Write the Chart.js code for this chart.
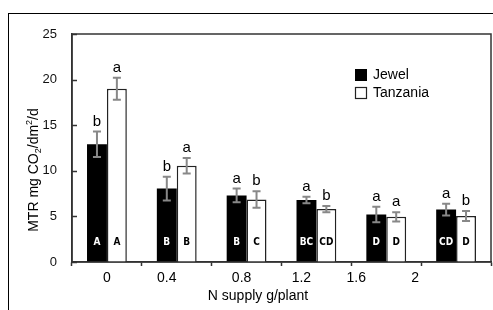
<!DOCTYPE html>
<html>
<head>
<meta charset="utf-8">
<script src="https://cdn.jsdelivr.net/npm/chart.js@4/dist/chart.umd.min.js"></script>
<style>
  html, body { margin: 0; padding: 0; background: #fff; overflow: hidden; }
  #wrap { position: relative; width: 493px; height: 310px; }
  #frame { position: absolute; left: 8px; top: 13px; width: 600px; height: 400px;
           border-left: 1.5px solid #000; border-top: 1.5px solid #000; }
  canvas { position: absolute; left: 0; top: 0; }
</style>
</head>
<body>
<div id="wrap">
  <div id="frame"></div>
  <canvas id="chart" width="493" height="310"></canvas>
</div>
<script>
// N supply levels (g/plant)
const nSupply = ['0', '0.4', '0.8', '1.2', '1.6', '2'];

// MTR mg CO2/dm2/d
const jewel = [12.9, 8.05, 7.3, 6.8, 5.2, 5.75];
const tanzania = [19.0, 10.55, 6.85, 5.8, 4.95, 5.05];

// error bars (+/-)
const jewelErr = [1.4, 1.3, 0.75, 0.35, 0.85, 0.65];
const tanzaniaErr = [1.2, 0.85, 0.9, 0.35, 0.5, 0.55];

// letters above bars (between cultivars) and inside bars (between N levels)
const jewelLetters = ['b', 'b', 'a', 'a', 'a', 'a'];
const tanzaniaLetters = ['a', 'a', 'b', 'b', 'a', 'b'];
const jewelGroups = ['A', 'B', 'B', 'BC', 'D', 'CD'];
const tanzaniaGroups = ['A', 'B', 'C', 'CD', 'D', 'D'];

const yTicks = [0, 5, 10, 15, 20, 25];

const FONT = '"Liberation Sans", Arial, Helvetica, sans-serif';
const NARROW = '"Liberation Sans Narrow", "Arial Narrow", "DejaVu Sans Condensed", sans-serif';

// x labels in the original are not centred under the groups
const xLabelNudge = [0, -10, -5, -15, -30, -41];

const decorations = {
    id: 'decorations',
    afterDatasetsDraw(chart) {
        const ctx = chart.ctx;
        const y = chart.scales.y;
        const x = chart.scales.x;
        const area = chart.chartArea;
        const errs = [jewelErr, tanzaniaErr];
        const sig = [jewelLetters, tanzaniaLetters];
        const grp = [jewelGroups, tanzaniaGroups];
        const grpColor = ['#fff', '#000'];

        ctx.save();
        // plot box
        ctx.strokeStyle = '#333';
        ctx.lineWidth = 1.5;
        ctx.strokeRect(area.left, area.top, area.right - area.left, area.bottom - area.top);

        // y ticks pointing inward
        yTicks.forEach((v) => {
            const py = Math.round(y.getPixelForValue(v)) + 0.5;
            ctx.beginPath();
            ctx.moveTo(area.left, py);
            ctx.lineTo(area.left + 5, py);
            ctx.stroke();
        });

        chart.data.datasets.forEach((ds, d) => {
            const meta = chart.getDatasetMeta(d);
            meta.data.forEach((bar, i) => {
                const v = ds.data[i];
                const e = errs[d][i];
                const top = y.getPixelForValue(v + e);
                const bot = y.getPixelForValue(v - e);
                // error bar
                ctx.strokeStyle = '#888';
                ctx.lineWidth = 2;
                ctx.beginPath();
                ctx.moveTo(bar.x, top);
                ctx.lineTo(bar.x, bot);
                ctx.moveTo(bar.x - 4, top);
                ctx.lineTo(bar.x + 4, top);
                ctx.moveTo(bar.x - 4, bot);
                ctx.lineTo(bar.x + 4, bot);
                ctx.stroke();

                // letter above
                ctx.fillStyle = '#000';
                ctx.font = '15px ' + FONT;
                ctx.textAlign = 'center';
                ctx.textBaseline = 'alphabetic';
                ctx.fillText(sig[d][i], bar.x, top - 6);

                // letter inside
                ctx.fillStyle = grpColor[d];
                ctx.font = 'bold 10px ' + NARROW;
                ctx.textBaseline = 'middle';
                ctx.fillText(grp[d][i], bar.x, y.getPixelForValue(2.2));
            });
        });

        // x tick labels
        ctx.fillStyle = '#000';
        ctx.font = '14px ' + FONT;
        ctx.textAlign = 'center';
        ctx.textBaseline = 'middle';
        nSupply.forEach((lab, i) => {
            ctx.fillText(lab, x.getPixelForTick(i) + xLabelNudge[i], 278);
        });
        ctx.fillText('N supply g/plant', 258, 296);

        // y title with sub/superscripts
        ctx.translate(38, 170);
        ctx.rotate(-Math.PI / 2);
        const parts = [
            ['MTR mg CO', 14, 0],
            ['2', 9, 3],
            ['/dm', 14, 0],
            ['2', 9, -6],
            ['/d', 14, 0],
        ];
        let w = 0;
        parts.forEach((p) => { ctx.font = p[1] + 'px ' + FONT; w += ctx.measureText(p[0]).width; });
        let cx = -w / 2;
        ctx.textAlign = 'left';
        ctx.textBaseline = 'alphabetic';
        parts.forEach((p) => {
            ctx.font = p[1] + 'px ' + FONT;
            ctx.fillText(p[0], cx, p[2]);
            cx += ctx.measureText(p[0]).width;
        });
        ctx.restore();

        // legend
        ctx.save();
        ctx.font = '14px ' + FONT;
        ctx.textAlign = 'left';
        ctx.textBaseline = 'middle';
        chart.data.datasets.forEach((ds, d) => {
            const ly = 69 + d * 18;
            ctx.fillStyle = ds.backgroundColor;
            ctx.fillRect(355, ly, 12, 12);
            if (ds.borderWidth) {
                ctx.strokeStyle = ds.borderColor;
                ctx.lineWidth = 1.2;
                ctx.strokeRect(355.5, ly + 0.5, 11, 11);
            }
            ctx.fillStyle = '#000';
            ctx.fillText(ds.label, 373, ly + 6.5);
        });
        ctx.restore();
    },
};

new Chart(document.getElementById('chart'), {
    type: 'bar',
    data: {
        labels: nSupply,
        datasets: [
            {
                label: 'Jewel',
                data: jewel,
                backgroundColor: '#000',
                borderWidth: 0,
            },
            {
                label: 'Tanzania',
                data: tanzania,
                backgroundColor: '#fff',
                borderColor: '#222',
                borderWidth: 1.5,
            },
        ],
    },
    options: {
        responsive: false,
        animation: false,
        layout: { padding: { left: 0, top: 34, right: 2, bottom: 0 } },
        datasets: {
            bar: { categoryPercentage: 0.57, barPercentage: 1.0 },
        },
        plugins: {
            legend: { display: false },
            tooltip: { enabled: false },
        },
        scales: {
            y: {
                min: 0,
                max: 25,
                afterFit: (s) => { s.width = 72; },
                afterBuildTicks: (s) => { s.ticks = yTicks.map((v) => ({ value: v })); },
                grid: { display: false },
                border: { color: '#333', width: 1.5 },
                ticks: {
                    color: '#111',
                    font: { size: 13, family: FONT },
                    padding: 7,
                },
            },
            x: {
                afterFit: (s) => { s.height = 48; },
                grid: {
                    offset: true,
                    drawOnChartArea: false,
                    drawTicks: true,
                    tickLength: 4,
                    tickColor: '#333',
                    tickWidth: 1.5,
                },
                border: { color: '#333', width: 1.5 },
                ticks: { color: 'rgba(0,0,0,0)', font: { size: 14, family: FONT } },
            },
        },
    },
    plugins: [decorations],
});
</script>
</body>
</html>
